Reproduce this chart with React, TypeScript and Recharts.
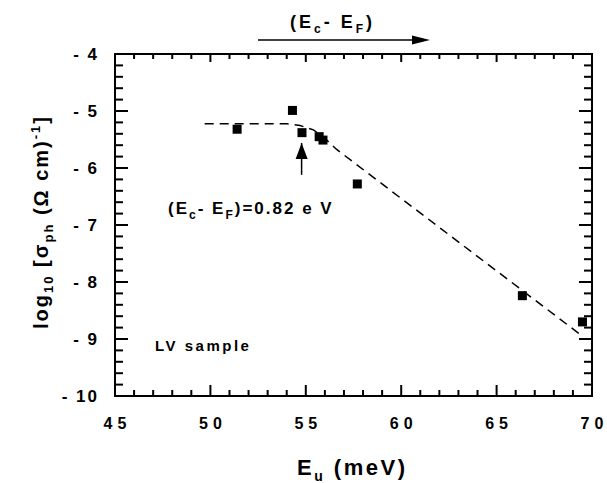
import { ScatterChart, Scatter, XAxis, YAxis, ReferenceLine, ReferenceDot } from "recharts"

// measured points (E_u in meV, log10 sigma_ph)
const euValues = [51.4, 54.3, 54.8, 55.7, 55.9, 57.7, 66.35, 69.5]
const logSigma = [-5.32, -4.99, -5.38, -5.45, -5.51, -6.28, -8.24, -8.7]

// dashed fit curve
const fitEu = [49.7, 54.0, 54.7, 55.4, 56.0, 56.6, 69.5]
const fitLog = [-5.225, -5.225, -5.255, -5.33, -5.48, -5.67, -8.95]

const xMajor = [45, 50, 55, 60, 65, 70]
const yMajor = [-10, -9, -8, -7, -6, -5, -4]

// arrow marking (Ec - EF) = 0.82 eV
const arrowEu = 54.78
const arrowTip = -5.56
const arrowBase = -6.12

const X_MIN = 45
const X_MAX = 70
const Y_MIN = -10
const Y_MAX = -4

const W = 607
const H = 483
const M = { top: 54, right: 15, left: 0, bottom: 0 }
const Y_W = 115
const X_H = 87
const plotLeft = M.left + Y_W
const plotRight = W - M.right
const plotTop = M.top
const plotBottom = H - X_H

const FONT = "'Liberation Sans', Arial, Helvetica, sans-serif"

const points = euValues.map((x, i) => ({ x, y: logSigma[i] }))
const fit = fitEu.map((x, i) => ({ x, y: fitLog[i] }))

const xTicks: number[] = []
for (let v = X_MIN; v <= X_MAX; v++) xTicks.push(v)
const yTicks: number[] = []
for (let i = 0; i <= 30; i++) yTicks.push(Math.round((Y_MIN + i * 0.2) * 10) / 10)

// same linear mapping as the chart's axes, used only for the frame tick marks
const px = (v: number) => plotLeft + ((v - X_MIN) / (X_MAX - X_MIN)) * (plotRight - plotLeft)
const py = (v: number) => plotBottom - ((v - Y_MIN) / (Y_MAX - Y_MIN)) * (plotBottom - plotTop)

function XTick(props: any) {
  const { payload } = props
  if (!xMajor.includes(payload.value)) return <g />
  return (
    <text x={payload.coordinate + 2.5} y={plotBottom + 33} textAnchor="middle" fontFamily={FONT} fontWeight={700} fontSize={16} letterSpacing={5} fill="#000">
      {payload.value}
    </text>
  )
}

function YTick(props: any) {
  const { payload } = props
  if (!yMajor.includes(payload.value)) return <g />
  return (
    <text x={99} y={payload.coordinate + 6} textAnchor="end" fontFamily={FONT} fontWeight={700} fontSize={17} letterSpacing={2} fill="#000">
      {"- " + Math.abs(payload.value)}
    </text>
  )
}

const Square = (props: any) => {
  const { cx, cy } = props
  return <rect x={cx - 4.5} y={cy - 4.5} width={9} height={9} fill="#000" />
}

const ArrowHead = (props: any) => {
  const { cx, cy } = props
  return <polygon points={`${cx},${cy} ${cx - 6},${cy + 16} ${cx + 6},${cy + 16}`} fill="#000" />
}

export default function App() {
  return (
    <div style={{ position: "absolute", left: 0, top: 0, width: W, height: H, background: "#fff" }}>
      <ScatterChart width={W} height={H} margin={M}>
        <XAxis
          type="number"
          dataKey="x"
          domain={[X_MIN, X_MAX]}
          ticks={xTicks}
          interval={0}
          height={X_H}
          axisLine={false}
          tickSize={0}
          tick={<XTick />}
        />
        <YAxis
          type="number"
          dataKey="y"
          domain={[Y_MIN, Y_MAX]}
          ticks={yTicks}
          interval={0}
          width={Y_W}
          axisLine={false}
          tickSize={0}
          tick={<YTick />}
        />
        <Scatter
          data={fit}
          line={{ stroke: "#000", strokeWidth: 1.5, strokeDasharray: "9 6" }}
          lineType="joint"
          shape={() => <g />}
          isAnimationActive={false}
        />
        <Scatter data={points} shape={<Square />} isAnimationActive={false} />
        <ReferenceLine
          segment={[
            { x: arrowEu, y: arrowTip },
            { x: arrowEu, y: arrowBase },
          ]}
          stroke="#000"
          strokeWidth={1.5}
        />
        <ReferenceDot x={arrowEu} y={arrowTip} shape={<ArrowHead />} />
      </ScatterChart>
      <svg width={W} height={H} style={{ position: "absolute", left: 0, top: 0, pointerEvents: "none" }}>
        <rect x={plotLeft} y={plotTop} width={plotRight - plotLeft} height={plotBottom - plotTop} fill="none" stroke="#000" strokeWidth={2} />
        <g stroke="#000" strokeWidth={2}>
          {xTicks.map((v) => {
            const major = xMajor.includes(v)
            return (
              <g key={"x" + v}>
                <line x1={px(v)} x2={px(v)} y1={plotBottom} y2={plotBottom - (major ? 11 : 6)} />
                <line x1={px(v)} x2={px(v)} y1={plotTop} y2={plotTop + (major ? 8 : 5)} />
              </g>
            )
          })}
          {yTicks.map((v) => {
            const len = yMajor.includes(v) ? 13 : 8
            return (
              <g key={"y" + v}>
                <line x1={plotLeft} x2={plotLeft + len} y1={py(v)} y2={py(v)} />
                <line x1={plotRight} x2={plotRight - len} y1={py(v)} y2={py(v)} />
              </g>
            )
          })}
        </g>
        <g fontFamily={FONT} fontWeight={700} fill="#000">
          <text x={290} y={28} fontSize={18} letterSpacing={3}>
            (E<tspan fontSize={12} dy={5}>c</tspan>
            <tspan dy={-5}>- E</tspan>
            <tspan fontSize={12} dy={5}>F</tspan>
            <tspan dy={-5}>)</tspan>
          </text>
          <line x1={258} x2={414} y1={40} y2={40} stroke="#000" strokeWidth={1.5} />
          <polygon points="430,40 412,35.5 412,44.5" />
          <text x={168} y={214} fontSize={17} letterSpacing={2}>
            (E<tspan fontSize={12} dy={5}>c</tspan>
            <tspan dy={-5}>- E</tspan>
            <tspan fontSize={12} dy={5}>F</tspan>
            <tspan dy={-5}>)=0.82  e V</tspan>
          </text>
          <text x={155} y={351} fontSize={15} letterSpacing={2.5}>
            LV  sample
          </text>
          <text x={297} y={475} fontSize={22} letterSpacing={2.5}>
            E<tspan fontSize={14} dy={6}>u</tspan>
            <tspan dy={-6}> (meV)</tspan>
          </text>
          <text transform="translate(48,222) rotate(-90)" textAnchor="middle" fontSize={20} letterSpacing={2}>
            log<tspan fontSize={13} dy={5}>10</tspan>
            <tspan dy={-5}> [σ</tspan>
            <tspan fontSize={13} dy={5}>ph</tspan>
            <tspan dy={-5}> (Ω cm)</tspan>
            <tspan fontSize={13} dy={-8}>-1</tspan>
            <tspan dy={8}>]</tspan>
          </text>
        </g>
      </svg>
    </div>
  )
}
